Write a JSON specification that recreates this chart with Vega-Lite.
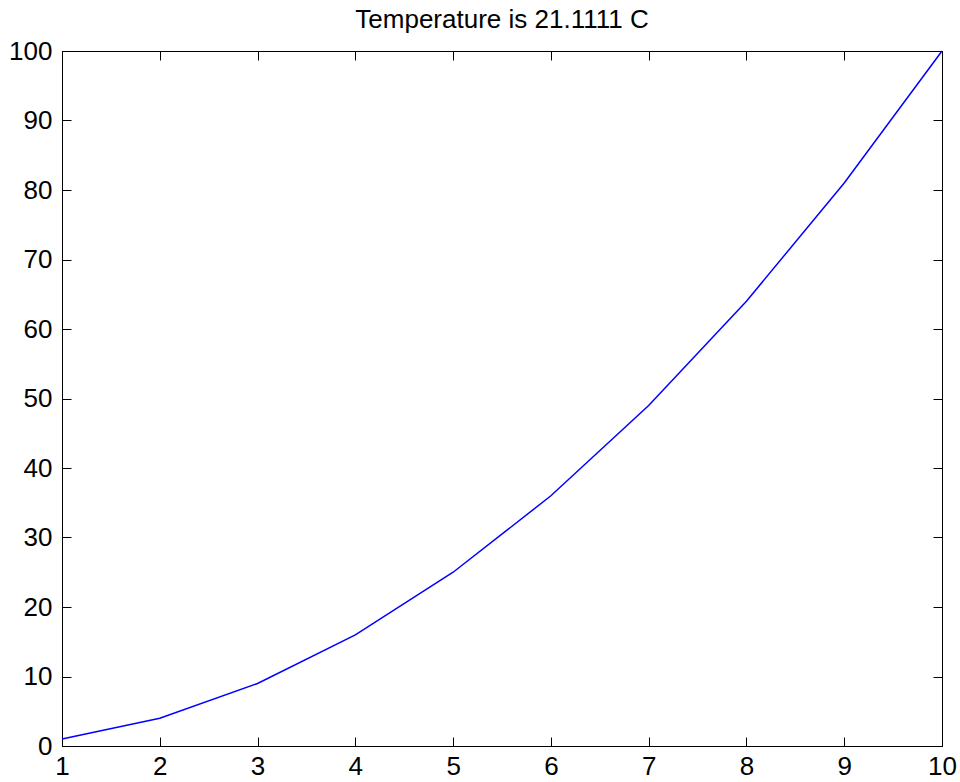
{
  "$schema": "https://vega.github.io/schema/vega-lite/v6.json",
  "autosize": {"type": "none"},
  "width": 880,
  "height": 695,
  "padding": {"left": 62, "top": 51, "right": 18, "bottom": 36},
  "background": "white",
  "title": {
    "text": "Temperature is 21.1111 C",
    "font": "Liberation Sans",
    "fontSize": 26,
    "fontWeight": "normal",
    "color": "black",
    "anchor": "middle",
    "frame": "group",
    "offset": 5
  },
  "config": {
    "view": {"stroke": "black", "strokeWidth": 1},
    "axis": {
      "grid": false,
      "domainColor": "black",
      "domainWidth": 1,
      "tickColor": "black",
      "tickWidth": 1,
      "tickSize": -9,
      "labelFont": "Liberation Sans",
      "labelFontSize": 26,
      "labelColor": "black",
      "title": null,
      "labelOverlap": false,
      "labelFlush": false
    }
  },
  "data": {
    "values": [
      {"x": 1, "y": 1},
      {"x": 2, "y": 4},
      {"x": 3, "y": 9},
      {"x": 4, "y": 16},
      {"x": 5, "y": 25},
      {"x": 6, "y": 36},
      {"x": 7, "y": 49},
      {"x": 8, "y": 64},
      {"x": 9, "y": 81},
      {"x": 10, "y": 100}
    ]
  },
  "layer": [
    {
      "mark": {"type": "line", "color": "#0000ff", "strokeWidth": 1.5},
      "encoding": {
        "x": {
          "field": "x", "type": "quantitative",
          "scale": {"domain": [1, 10], "nice": false, "zero": false},
          "axis": {"orient": "bottom", "values": [1,2,3,4,5,6,7,8,9,10], "labelPadding": 16}
        },
        "y": {
          "field": "y", "type": "quantitative",
          "scale": {"domain": [0, 100], "nice": false, "zero": false},
          "axis": {"orient": "left", "values": [0,10,20,30,40,50,60,70,80,90,100], "labelPadding": 19}
        }
      }
    },
    {
      "mark": {"type": "line", "opacity": 0},
      "encoding": {
        "x": {
          "field": "x", "type": "quantitative",
          "axis": {"orient": "top", "values": [1,2,3,4,5,6,7,8,9,10], "labels": false}
        },
        "y": {
          "field": "y", "type": "quantitative",
          "axis": {"orient": "right", "values": [0,10,20,30,40,50,60,70,80,90,100], "labels": false}
        }
      }
    }
  ],
  "resolve": {"axis": {"x": "independent", "y": "independent"}}
}
